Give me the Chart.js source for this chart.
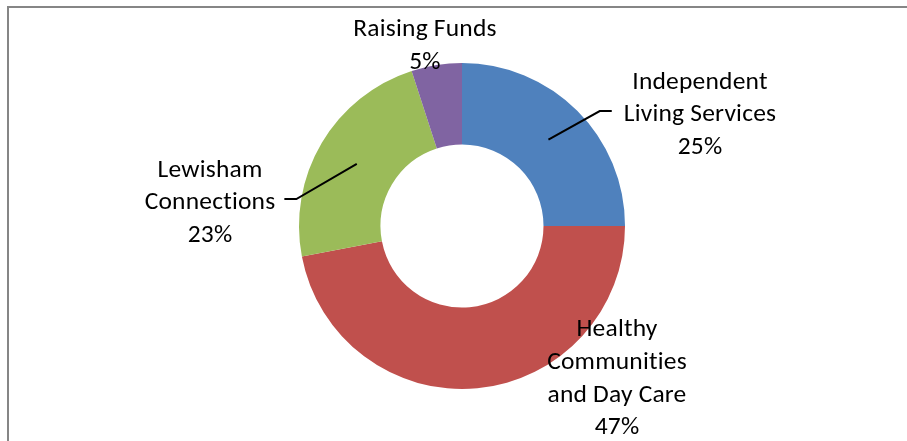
<!DOCTYPE html>
<html>
<head>
<meta charset="utf-8">
<script src="https://cdn.jsdelivr.net/npm/chart.js@4/dist/chart.umd.min.js"></script>
<style>
  html, body { margin: 0; padding: 0; background: #fff; }
  #wrap { position: relative; width: 907px; height: 441px; overflow: hidden; }
  #frame { position: absolute; left: 7px; top: 6px; width: 920px; height: 460px;
           border-top: 2px solid #868686; border-left: 2px solid #868686; box-sizing: border-box; pointer-events: none; }
  canvas { position: absolute; left: 0; top: 0; }
</style>
</head>
<body>
<div id="wrap">
  <canvas id="c" width="907" height="441"></canvas>
  <div id="frame"></div>
</div>
<script>
// ---- data ----
const categories = ['Independent Living Services', 'Healthy Communities and Day Care', 'Lewisham Connections', 'Raising Funds'];
const values = [25, 47, 23, 5];
const labelLines = [
  ['Independent', 'Living Services'],
  ['Healthy', 'Communities', 'and Day Care'],
  ['Lewisham', 'Connections'],
  ['Raising Funds']
];
const colors = ['#4F81BD', '#C0504D', '#9BBB59', '#8064A2'];

// ---- label placement (style, relative to outer radius) ----
const labelOffsets = [[1.46, -0.693], [0.951, 0.926], [-1.546, -0.153], [-0.227, -1.117]];
const leaderSide = ['left', null, 'right', null];

const FONT = '25.5px Carlito, Calibri, Lato, "Liberation Sans", sans-serif';
const LINE_H = 32.7;
const TEXT_DY = 2;

const labelPlugin = {
  id: 'excelLabels',
  afterDatasetsDraw(chart) {
    const ctx = chart.ctx;
    const meta = chart.getDatasetMeta(0);
    const total = values.reduce((a, b) => a + b, 0);
    ctx.save();
    ctx.font = FONT;
    if ('letterSpacing' in ctx) ctx.letterSpacing = '0.2px';
    ctx.fillStyle = '#000';
    ctx.textAlign = 'center';
    ctx.textBaseline = 'middle';
    meta.data.forEach((arc, i) => {
      const R = arc.outerRadius;
      const cx = arc.x + labelOffsets[i][0] * R;
      const cy = arc.y + labelOffsets[i][1] * R;
      const pct = Math.round(values[i] / total * 100) + '%';
      const lines = labelLines[i].concat([pct]);
      const n = lines.length;
      let maxW = 0;
      lines.forEach(l => { maxW = Math.max(maxW, ctx.measureText(l).width); });
      lines.forEach((l, k) => {
        ctx.fillText(l, cx, cy + TEXT_DY + (k - (n - 1) / 2) * LINE_H);
      });
      if (leaderSide[i]) {
        const p = arc.tooltipPosition();
        const ly = cy - 2;
        let endX, elbowX;
        if (leaderSide[i] === 'left') {
          endX = cx - maxW / 2 - 12; elbowX = endX - 12;
        } else {
          endX = cx + maxW / 2 + 9; elbowX = endX + 12;
        }
        ctx.beginPath();
        ctx.strokeStyle = '#000';
        ctx.lineWidth = 2;
        ctx.moveTo(p.x, p.y);
        ctx.lineTo(elbowX, ly);
        ctx.lineTo(endX, ly);
        ctx.stroke();
      }
    });
    ctx.restore();
  }
};

new Chart(document.getElementById('c'), {
  type: 'doughnut',
  data: {
    labels: categories,
    datasets: [{
      data: values,
      backgroundColor: colors,
      borderWidth: 0
    }]
  },
  options: {
    responsive: false,
    animation: false,
    cutout: '50%',
    layout: { padding: { left: 17, right: 0, top: 63, bottom: 52 } },
    plugins: {
      legend: { display: false },
      tooltip: { enabled: false }
    }
  },
  plugins: [labelPlugin]
});
</script>
</body>
</html>
